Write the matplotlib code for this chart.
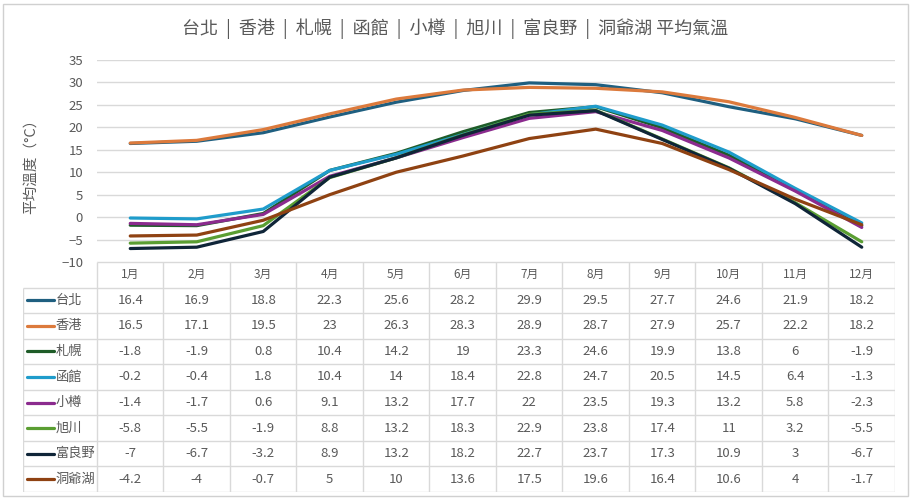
import numpy as np
import matplotlib.pyplot as plt
from matplotlib.patches import Rectangle

plt.rcParams['font.family'] = ['Noto Sans CJK TC', 'DejaVu Sans']

months = ["1月", "2月", "3月", "4月", "5月", "6月", "7月", "8月", "9月", "10月", "11月", "12月"]
cities = ["台北", "香港", "札幌", "函館", "小樽", "旭川", "富良野", "洞爺湖"]
taipei = [16.4, 16.9, 18.8, 22.3, 25.6, 28.2, 29.9, 29.5, 27.7, 24.6, 21.9, 18.2]
hongkong = [16.5, 17.1, 19.5, 23, 26.3, 28.3, 28.9, 28.7, 27.9, 25.7, 22.2, 18.2]
sapporo = [-1.8, -1.9, 0.8, 10.4, 14.2, 19, 23.3, 24.6, 19.9, 13.8, 6, -1.9]
hakodate = [-0.2, -0.4, 1.8, 10.4, 14, 18.4, 22.8, 24.7, 20.5, 14.5, 6.4, -1.3]
otaru = [-1.4, -1.7, 0.6, 9.1, 13.2, 17.7, 22, 23.5, 19.3, 13.2, 5.8, -2.3]
asahikawa = [-5.8, -5.5, -1.9, 8.8, 13.2, 18.3, 22.9, 23.8, 17.4, 11, 3.2, -5.5]
furano = [-7, -6.7, -3.2, 8.9, 13.2, 18.2, 22.7, 23.7, 17.3, 10.9, 3, -6.7]
toya = [-4.2, -4, -0.7, 5, 10, 13.6, 17.5, 19.6, 16.4, 10.6, 4, -1.7]
series = [taipei, hongkong, sapporo, hakodate, otaru, asahikawa, furano, toya]
colors = ["#1f5f80", "#dc7a3c", "#1e5c28", "#1f9ccb", "#8b2b8e", "#5a9e32", "#0f2538", "#8f4212"]

title = "  |  ".join(cities) + " 平均氣溫"
grey = "#595959"
grid = "#d9d9d9"

W, H = 911, 500
fig = plt.figure(figsize=(W / 100, H / 100), dpi=100)
fig.patches.append(Rectangle((3 / W, 4 / H), 905 / W, 492 / H, transform=fig.transFigure,
                             fill=False, edgecolor="#d0d0d0", lw=1))

# chart area
left, right = 97, 895
ax = fig.add_axes([left / W, 1 - 262 / H, (right - left) / W, (262 - 60) / H])
x = np.arange(len(months))
for vals, c in zip(series, colors):
    ax.plot(x, vals, color=c, lw=2.3, solid_joinstyle="round", solid_capstyle="round", zorder=3)
ax.set_xlim(-0.5, len(months) - 0.5)
ax.set_ylim(-10, 35)
ax.set_yticks(np.arange(-10, 36, 5))
ax.set_xticks([])
ax.yaxis.grid(True, color=grid, lw=1)
ax.set_axisbelow(True)
for s in ax.spines.values():
    s.set_visible(False)
ax.tick_params(axis="y", length=0, pad=10, labelsize=9.5, labelcolor=grey)
fig.text(455 / W, 1 - 29 / H, title, ha="center", va="center", fontsize=13, color=grey)
fig.text(31 / W, 1 - 163 / H, "平均溫度（°C）", rotation=90, ha="center", va="center",
         fontsize=10.5, color=grey)

# data table
colw = (right - left) / 12
legw = (left - 23) / colw
tax = fig.add_axes([23 / W, 1 - 492 / H, (right - 23) / W, (492 - 262) / H])
tax.set_xlim(-0.5 - legw, 11.5)
tax.set_ylim(8.5, -0.5)
tax.axis("off")
lkw = dict(color=grid, lw=1, solid_capstyle="butt")
tax.plot([-0.5, 11.5], [-0.5, -0.5], **lkw)
for r in range(1, 10):
    tax.plot([-0.5 - legw, 11.5], [r - 0.5, r - 0.5], **lkw)
tax.plot([-0.5 - legw, -0.5 - legw], [0.5, 8.5], **lkw)
for cidx in range(13):
    tax.plot([cidx - 0.5, cidx - 0.5], [-0.5, 8.5], **lkw)
for i, m in enumerate(months):
    tax.text(i, 0, m, ha="center", va="center", fontsize=8.5, color=grey)
for r, (name, vals, c) in enumerate(zip(cities, series, colors), start=1):
    x0 = -0.5 - legw
    tax.plot([x0 + 4 / colw, x0 + 31 / colw], [r, r], color=c, lw=2.3, solid_capstyle="round")
    tax.text(x0 + 33 / colw, r, name, ha="left", va="center", fontsize=9.5, color=grey)
    for i, v in enumerate(vals):
        tax.text(i, r, f"{v:g}", ha="center", va="center", fontsize=9.5, color=grey)

fig.savefig("out.png", dpi=100)
